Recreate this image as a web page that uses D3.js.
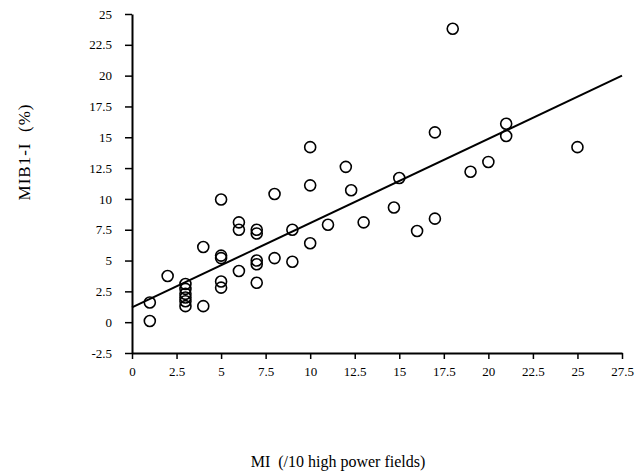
<!DOCTYPE html>
<html><head><meta charset="utf-8">
<script src="https://cdn.jsdelivr.net/npm/d3@7"></script>
<style>body{margin:0;background:#fff} text.ttl{white-space:pre}</style>
</head><body>
<svg id="c" width="644" height="475"></svg>
<script>
const miValues = [1,1,2,3,3,3,3,3,3,4,4,5,5,5,5,5,6,6,6,7,7,7,7,7,8,8,9,9,10,10,10,11,12,12.3,13,14.7,15,16,17,17,18,19,20,21,21,25];
const mibValues = [1.6,0.1,3.75,3.1,2.7,2.3,2.0,1.7,1.3,6.1,1.3,9.95,5.4,5.2,3.3,2.8,8.1,7.5,4.15,7.5,7.2,5.0,4.7,3.2,10.4,5.2,7.5,4.9,14.2,11.1,6.4,7.9,12.6,10.7,8.1,9.3,11.7,7.4,15.4,8.4,23.8,12.2,13.0,16.1,15.1,14.2];
const fitLine = [[0,1.2],[27.5,20.0]];
const xTicks = [0,2.5,5,7.5,10,12.5,15,17.5,20,22.5,25,27.5];
const yTicks = [-2.5,0,2.5,5,7.5,10,12.5,15,17.5,20,22.5,25];
const xTitle = "MI  (/10 high power fields)";
const yTitle = "MIB1-I  (%)";

const svg = d3.select("#c");
const x = d3.scaleLinear().domain([0,27.5]).range([132,622]);
const y = d3.scaleLinear().domain([-2.5,25]).range([353,14]);
const fmt = d => String(d);
const font = "'Liberation Serif','Times New Roman',serif";

const gx = svg.append("g").attr("transform",`translate(0,${y(-2.5)})`)
  .call(d3.axisBottom(x).tickValues(xTicks).tickFormat(fmt).tickSize(6).tickSizeOuter(0));
const gy = svg.append("g").attr("transform",`translate(${x(0)},0)`)
  .call(d3.axisLeft(y).tickValues(yTicks).tickFormat(fmt).tickSize(7).tickSizeOuter(0));
[gx,gy].forEach(g=>{
  g.select(".domain").attr("stroke","#000").attr("stroke-width",2);
  g.selectAll(".tick line").attr("stroke","#000").attr("stroke-width",1.5);
  g.selectAll("text").attr("font-family",font).attr("font-size",13).attr("fill","#000");
});
gx.selectAll("text").attr("dy","0.71em").attr("y",14);
gy.selectAll("text").attr("x",-20);

svg.append("line")
  .attr("x1",x(fitLine[0][0])).attr("y1",y(fitLine[0][1]))
  .attr("x2",x(fitLine[1][0])).attr("y2",y(fitLine[1][1]))
  .attr("stroke","#000").attr("stroke-width",2);

svg.append("g").selectAll("circle").data(miValues.map((v,i)=>[v,mibValues[i]])).join("circle")
  .attr("cx",d=>x(d[0])).attr("cy",d=>y(d[1])).attr("r",5.5)
  .attr("fill","none").attr("stroke","#000").attr("stroke-width",1.6);

svg.append("text").attr("class","ttl").attr("x",338).attr("y",467).attr("text-anchor","middle")
  .attr("font-family",font).attr("font-size",16).text(xTitle);
svg.append("text").attr("class","ttl").attr("transform","translate(30,152) rotate(-90)").attr("text-anchor","middle")
  .attr("font-family",font).attr("font-size",17).attr("letter-spacing",1).text(yTitle);
</script>
</body></html>
